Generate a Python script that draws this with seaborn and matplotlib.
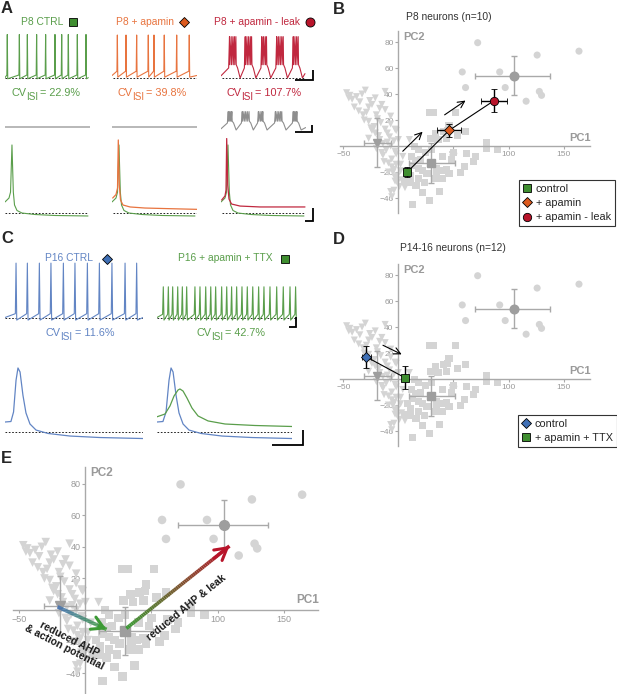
import numpy as np
import pandas as pd
import seaborn as sns
import matplotlib.pyplot as plt
from matplotlib.lines import Line2D
from matplotlib.collections import LineCollection
from matplotlib.colors import LinearSegmentedColormap

# figure size in pixels
W, H = 617, 694

# colours
GREEN = '#5a9e4b'
GREEN_MK = '#3f8e30'
ORANGE = '#e8743f'
ORANGE_MK = '#dc5a1e'
RED = '#c0283f'
RED_MK = '#b8142a'
BLUE = '#6285c4'
BLUE_MK = '#3f6fb5'
GREY_PT = '#d4d4d4'
GREY_MEAN = '#9e9e9e'
GREY_AX = '#a9a9a9'
GREY_TXT = '#9a9a9a'

# ---- background population in PC space ----
tri_pc1 = [-47, -42, -35, -30, -21, -12, -40, -27, -12, -32, -20, -7, -27, -16, -7, -25, -12, -3,
           -21, -8, -27, -4, -14, -7, -11, -3, -14, -6, -9, -2, -4, 2, -1, 3, -3, 1, 6, -4, -7, -6,
           10, -44, -38, -24, -17, -36, -31, -22, -18, -10, 0, 4, -2, -5, -45, -33, -26, -15, -29,
           -19, -24, -17, -20, -13, -9, -3, -1, 2, -6, -10, -2, -15]
tri_pc2 = [41, 36, 34, 43, 37, 42, 30, 30, 28, 24, 24, 23, 19, 18, 17, 14, 13, 13,
           10, 7, 6, 4, 2, 0, -3, -4, -7, -10, -13, -14, -18, -19, -23, -26, -27, -31, -32, -34, -35, -39,
           5, 39, 38, 32, 29, 27, 20, 15, 8, 10, 5, -8, -6, -20, 37, 40, 35, 32, 26,
           21, 12, 5, -2, -12, -20, -24, -28, -14, -16, 3, 12, -5]
sq_pc1 = [28, 32, 52, 46, 41, 45, 34, 54, 29, 36, 44, 18, 80, 90, 70, 68, 56, 62, 25, 40,
          50, 12, 20, 16, 13, 18, 22, 26, 35, 39, 44, 35, 46, 40, 34, 18, 24, 16, 22, 37,
          28, 13, 8, 11, 6, 11, 60, 48, 30, 15, 80, 61]
sq_pc2 = [26, 26, 26, 16, 11, 12, 10, 8, 6, 5, 6, -3, -2, -3, -8, -12, -20, -6, -5, -8,
          -5, -8, -10, -11, -15, -17, -19, -21, -17, -19, -18, -22, -21, -25, -25, -25, -28, -30, -36, -35,
          -42, -45, -19, -23, -27, -28, -16, -10, -3, 0, 3, 11]
circ_pc1 = [72, 164, 126, 58, 92, 61, 97, 128, 130, 116]
circ_pc2 = [79.5, 73, 70, 57, 57, 45, 45, 42, 39, 34.5]

# group means with asymmetric errors
mean_pc1 = [-19, 30, 105]
mean_pc2 = [2.5, -13, 54]
mean_xlo = [-31, 10, 70]
mean_xhi = [-7, 51, 138]
mean_ylo = [-16, -28.5, 39]
mean_yhi = [21.5, 2, 69.5]
mean_marker = ['v', 's', 'o']

# panel B: P8 neurons
b_labels = ['control', '+ apamin', '+ apamin - leak']
b_pc1 = [8, 46, 87]
b_pc2 = [-20, 12, 35]
b_xerr = [2, 11, 12]
b_yerr = [4, 5, 9]
b_markers = ['s', 'D', 'o']
b_colors = [GREEN_MK, ORANGE_MK, RED_MK]
b_arrow_start = [(4, -4), (42, 24)]
b_arrow_end = [(22, 11), (61, 35)]

# panel D: P14-16 neurons
d_labels = ['control', '+ apamin + TTX']
d_pc1 = [-29, 6]
d_pc2 = [17, 1]
d_xerr = [4, 3]
d_yerr = [8.5, 9]
d_markers = ['D', 's']
d_colors = [BLUE_MK, GREEN_MK]
d_arrow_start = [(-14, 26)]
d_arrow_end = [(3, 19)]

# panel E: summary arrows
e_arrow_start = [(-21, 2), (31, -11.6)]
e_arrow_end = [(16, -12.2), (109, 40.5)]
e_arrow_colors = [('#3f6fb5', '#3c9a35'), ('#3c9a35', '#b8142a')]

# ---- voltage traces (time in ms of a 1 s sweep, voltage in % of panel height) ----
a_ctrl_spikes = [27, 169, 263, 372, 478, 588, 667, 745, 851, 953]
a_apamin_spikes = [63, 165, 290, 427, 494, 615, 761, 909]
a_leak_bursts = [[100, 120, 140, 158, 175], [285, 305, 325, 345, 360], [480, 500, 520, 535],
                 [655, 675, 695, 715, 732], [850, 870, 890, 908]]
a_grey_bursts = [[85, 100, 115, 128], [250, 270, 290, 310, 330], [440, 460, 480, 492],
                 [640, 660, 680, 700, 715], [850, 865, 880, 893]]
c_ctrl_spikes = [80, 162, 249, 333, 423, 507, 597, 684, 775, 870, 954]
c_ttx_spikes = [45, 81, 112, 148, 181, 212, 271, 307, 348, 384, 419, 462, 498,
                533, 569, 607, 645, 684, 726, 764, 807, 855, 902, 950, 990]

# CV of inter-spike intervals
cv_values = ['22.9%', '39.8%', '107.7%', '11.6%', '42.7%']

# single action potentials (time % of panel width, voltage % of panel height)
ap_p8_ctrl_t = [0, 4.7, 6.5, 8.2, 9.8, 11.2, 14.1, 20, 35.3, 58.8, 97.6]
ap_p8_ctrl_v = [22, 26.8, 34, 91.5, 34, 18.3, 11.6, 8.5, 6.7, 5.5, 4.9]
ap_p8_apamin_t = [0.8, 4.7, 6.5, 7.4, 8.6, 10, 12.9, 21.2, 38.8, 68.2, 100]
ap_p8_apamin_v = [26.8, 31, 39, 97.6, 42.7, 24.4, 18.3, 15.9, 14.6, 13.8, 13]
ap_p8_leak_t = [0.8, 4.7, 5.9, 6.7, 7.9, 9.4, 12.4, 22.4, 45.9, 98.8]
ap_p8_leak_v = [24.4, 29.3, 36.6, 99.4, 42.7, 25.6, 19.5, 17, 15.9, 15.9]
ap_p16_ctrl_t = [0, 4.3, 6.2, 8, 9.4, 10.9, 13, 15.2, 18.1, 22.5, 31.2, 47.1, 68.8, 100]
ap_p16_ctrl_v = [27.7, 28.3, 39.8, 78, 92.8, 88, 60, 38.6, 25.3, 18, 13.9, 10.8, 9, 7.8]
ap_p16_ctrl2_t = [0, 4.4, 6.7, 8.9, 10.4, 11.9, 14.1, 16.3, 19.3, 23.7, 32.6, 48.1, 70.4, 100]
ap_p16_ttx_t = [0, 5.9, 9.6, 12.6, 15.6, 17, 19.3, 22.2, 25.9, 30.4, 37.8, 50.4, 72.6, 100]
ap_p16_ttx_v = [34, 37.3, 47, 59, 66.3, 67.5, 65, 56.6, 44.6, 35, 29, 25.3, 23.5, 22.3]


def fx(x):
    return x / W


def fy(y):
    return 1 - y / H


def px_axes(fig, x0, y0, x1, y1):
    return fig.add_axes([x0 / W, 1 - y1 / H, (x1 - x0) / W, (y1 - y0) / H])


def trace_axes(fig, x0, y0, x1, y1, xmax=1000):
    ax = px_axes(fig, x0, y0, x1, y1)
    ax.set_xlim(0, xmax)
    ax.set_ylim(0, 100)
    ax.axis('off')
    ax.patch.set_alpha(0)
    return ax


def spike_train(times, base, peak, ahp, pre=4, t_end=1000):
    t, v = [0], [base]
    for s in times:
        t += [s - 5, s, s + 5]
        v += [base + pre, peak, base - ahp]
    t.append(t_end)
    v.append(base)
    return t, v


def burst_train(bursts, hump, peak, dip, t_end=1000):
    t, v = [0], [dip + 4]
    for b in bursts:
        t.append(b[0] - 10)
        v.append(hump)
        for s in b:
            t += [s, s + 4]
            v += [peak, hump + 6]
        t += [b[-1] + 20, b[-1] + 50]
        v += [hump, dip]
    t.append(t_end)
    v.append(dip + 8)
    return t, v


def dashed(ax, level, t0=0, t1=100):
    ax.plot([t0, t1], [level, level], color='black', lw=0.6, ls=(0, (2, 2)), zorder=1)


def scale_bar(ax, x0, x1, y0, y1):
    ax.plot([x0, x1, x1], [y0, y0, y1], color='black', lw=1.3, clip_on=False,
            solid_capstyle='butt', solid_joinstyle='miter')


def glyph(fig, x, y, marker, color, ms=6):
    fig.add_artist(Line2D([fx(x)], [fy(y)], transform=fig.transFigure, ls='none', marker=marker,
                          ms=ms, mfc=color, mec='black', mew=0.6))


def cv_label(fig, renderer, xc, y_base, value, color):
    # "CV" + lowered "ISI" + " = value", centred on xc
    parts = [('CV', 7.8, 0, -0.8), ('ISI', 7.2, 4.5, 2.5), ('= ' + value, 7.8, 0, 0)]
    texts, widths = [], []
    for s, fs, dy, kern in parts:
        t = fig.text(0, 0, s, color=color, fontsize=fs, ha='left', va='baseline')
        widths.append(t.get_window_extent(renderer).width + kern)
        texts.append((t, dy))
    x = xc - sum(widths) / 2
    for (t, dy), w in zip(texts, widths):
        t.set_position((fx(x), fy(y_base + dy)))
        x += w


def pca_axes(fig, box, lims, pop, tick_fs, pc_fs, pt_size, mean_ms):
    ax = px_axes(fig, *box)
    sns.scatterplot(data=pop, x='pc1', y='pc2', style='group',
                    markers={'tri': 'v', 'sq': 's', 'circ': 'o'},
                    color=GREY_PT, s=pt_size, linewidth=0, legend=False, ax=ax, zorder=1)
    for i in range(len(mean_pc1)):
        ax.errorbar(mean_pc1[i], mean_pc2[i],
                    xerr=[[mean_pc1[i] - mean_xlo[i]], [mean_xhi[i] - mean_pc1[i]]],
                    yerr=[[mean_pc2[i] - mean_ylo[i]], [mean_yhi[i] - mean_pc2[i]]],
                    fmt=mean_marker[i], ms=mean_ms, mfc=GREY_MEAN, mec=GREY_MEAN,
                    ecolor=GREY_AX, elinewidth=1, capsize=2.5, capthick=1, zorder=2)
    ax.set_xlim(lims[0], lims[1])
    ax.set_ylim(lims[2], lims[3])
    ax.set_xlabel('')
    ax.set_ylabel('')
    ax.patch.set_alpha(0)
    for side in ['top', 'right']:
        ax.spines[side].set_visible(False)
    for side in ['left', 'bottom']:
        ax.spines[side].set_position(('data', 0))
        ax.spines[side].set_color(GREY_AX)
        ax.spines[side].set_linewidth(1)
    ax.set_xticks([-50, 50, 100, 150])
    ax.set_yticks([-40, -20, 20, 40, 60, 80])
    ax.tick_params(axis='both', colors=GREY_AX, labelcolor=GREY_TXT, labelsize=tick_fs,
                   length=2.5, width=0.8, pad=1, direction='out', bottom=True, left=True)
    ax.text(4, lims[3] - 0.5, 'PC2', color=GREY_TXT, fontsize=pc_fs, fontweight='bold',
            ha='left', va='top')
    ax.text(lims[1] + 1, 2.5, 'PC1', color=GREY_TXT, fontsize=pc_fs, fontweight='bold',
            ha='right', va='bottom')
    return ax


def add_points(ax, xs, ys, xerr, yerr, markers, colors):
    handles = []
    for i in range(len(xs)):
        ms = 5 if markers[i] == 'D' else 6
        ax.errorbar(xs[i], ys[i], xerr=xerr[i], yerr=yerr[i], fmt=markers[i], ms=ms,
                    mfc=colors[i], mec='black', mew=0.6, ecolor='black', elinewidth=1,
                    capsize=2.5, capthick=1, zorder=4)
        handles.append(Line2D([], [], ls='none', marker=markers[i], ms=ms, mfc=colors[i],
                              mec='black', mew=0.6))
    return handles


def add_legend(fig, ax, handles, labels, x, y):
    leg = ax.legend(handles, labels, loc='upper left', bbox_to_anchor=(fx(x), fy(y)),
                    bbox_transform=fig.transFigure, fontsize=7.8, frameon=True, fancybox=False,
                    edgecolor='#333333', framealpha=1, handlelength=0.8, handletextpad=0.4,
                    borderpad=0.35, labelspacing=0.4, borderaxespad=0)
    leg.get_frame().set_linewidth(0.8)


def main():
    sns.set_theme(style='white')
    plt.rcParams['font.family'] = ['Liberation Sans', 'DejaVu Sans']

    fig = plt.figure(figsize=(W / 100, H / 100), dpi=100)
    renderer = fig.canvas.get_renderer()

    pop = pd.DataFrame({
        'pc1': tri_pc1 + sq_pc1 + circ_pc1,
        'pc2': tri_pc2 + sq_pc2 + circ_pc2,
        'group': ['tri'] * len(tri_pc1) + ['sq'] * len(sq_pc1) + ['circ'] * len(circ_pc1),
    })

    # ---------------- panel A ----------------
    a_cols = [(5, 90), (112, 197), (221, 306)]

    ax = trace_axes(fig, a_cols[0][0], 28, a_cols[0][1], 82)
    t, v = spike_train(a_ctrl_spikes, 8, 88, 2, pre=5, t_end=980)
    ax.plot(t, v, color=GREEN, lw=0.8)
    dashed(ax, 7.4, 0, 980)

    ax = trace_axes(fig, a_cols[1][0], 28, a_cols[1][1], 82)
    t, v = spike_train(a_apamin_spikes, 12, 87, 3, pre=8, t_end=996)
    ax.plot(t, v, color=ORANGE, lw=0.8)
    dashed(ax, 7.4, 8, 996)

    ax = trace_axes(fig, a_cols[2][0], 28, a_cols[2][1], 82)
    t, v = burst_train(a_leak_bursts, 26, 84, 7.5, t_end=988)
    ax.plot(t, v, color=RED, lw=0.8)
    dashed(ax, 7.4, 8, 988)
    scale_bar(ax, 870, 1082, 3.7, 22.2)

    # grey reference traces
    for x0, x1 in a_cols[:2]:
        ax = trace_axes(fig, x0, 105, x1, 135)
        ax.plot([0, 1000], [26.7, 26.7], color='#a4a4a4', lw=1.1)
    ax = trace_axes(fig, a_cols[2][0], 105, a_cols[2][1], 135)
    t, v = burst_train(a_grey_bursts, 40, 78, 16.7, t_end=995)
    ax.plot(t, v, color='#8e8e8e', lw=0.8)
    scale_bar(ax, 870, 1071, 11, 33.3)

    # single action potentials
    ax = trace_axes(fig, a_cols[0][0], 138, a_cols[0][1], 220, xmax=100)
    ax.plot(ap_p8_ctrl_t, ap_p8_ctrl_v, color=GREEN, lw=0.8)
    dashed(ax, 8.5, 0, 97.6)

    ax = trace_axes(fig, a_cols[1][0], 138, a_cols[1][1], 220, xmax=100)
    ax.plot(ap_p8_ctrl_t, ap_p8_ctrl_v, color=GREEN, lw=0.8)
    ax.plot(ap_p8_apamin_t, ap_p8_apamin_v, color=ORANGE, lw=0.9)
    dashed(ax, 8.2, 0.8, 100)

    ax = trace_axes(fig, a_cols[2][0], 138, a_cols[2][1], 220, xmax=100)
    ax.plot(ap_p8_ctrl_t, ap_p8_ctrl_v, color=GREEN, lw=0.8)
    ax.plot(ap_p8_leak_t, ap_p8_leak_v, color=RED, lw=0.9)
    dashed(ax, 8.2, 0.8, 99)
    scale_bar(ax, 98.8, 108.2, -1.2, 14.6)

    # ---------------- panel C ----------------
    ax = trace_axes(fig, 5, 258, 143, 322)
    t, v = spike_train(c_ctrl_spikes, 7, 92, 4, pre=6)
    ax.plot(t, v, color=BLUE, lw=0.8)
    dashed(ax, 6.25, 0, 1000)

    ax = trace_axes(fig, 157, 258, 297, 322)
    t, v = spike_train(c_ttx_spikes, 7, 55, 4, pre=5)
    ax.plot(t, v, color=GREEN, lw=0.8)
    dashed(ax, 5.8, 0, 1000)
    scale_bar(ax, 943, 993, -7.8, 7.8)

    ax = trace_axes(fig, 5, 362, 143, 445, xmax=100)
    ax.plot(ap_p16_ctrl_t, ap_p16_ctrl_v, color=BLUE, lw=0.9)
    dashed(ax, 15.3, 0, 100)

    ax = trace_axes(fig, 157, 362, 292, 445, xmax=100)
    ax.plot(ap_p16_ctrl2_t, ap_p16_ctrl_v, color=BLUE, lw=0.9)
    ax.plot(ap_p16_ttx_t, ap_p16_ttx_v, color=GREEN, lw=0.9)
    dashed(ax, 15.3, 0, 100)
    scale_bar(ax, 85.2, 108.1, 0, 18)

    # trace titles and CV labels
    title_fs = 7.4
    fig.text(fx(42), fy(22), 'P8 CTRL', color=GREEN, fontsize=title_fs, ha='center', va='center')
    glyph(fig, 73, 22, 's', GREEN_MK, ms=5.5)
    fig.text(fx(145), fy(22), 'P8 + apamin', color=ORANGE, fontsize=title_fs, ha='center', va='center')
    glyph(fig, 184, 22, 'D', ORANGE_MK, ms=5)
    fig.text(fx(257), fy(22), 'P8 + apamin - leak', color=RED, fontsize=title_fs, ha='center', va='center')
    glyph(fig, 310, 22, 'o', RED_MK, ms=6.5)
    fig.text(fx(69), fy(258), 'P16 CTRL', color=BLUE, fontsize=title_fs, ha='center', va='center')
    glyph(fig, 107, 259, 'D', BLUE_MK, ms=5)
    fig.text(fx(225), fy(258), 'P16 + apamin + TTX', color=GREEN, fontsize=title_fs, ha='center', va='center')
    glyph(fig, 285, 259, 's', GREEN_MK, ms=5.5)

    cv_pos = [(46, 96), (152, 96), (264, 96), (80, 336), (231, 336)]
    cv_colors = [GREEN, ORANGE, RED, BLUE, GREEN]
    for (x, y), val, col in zip(cv_pos, cv_values, cv_colors):
        cv_label(fig, renderer, x, y, val, col)

    # ---------------- panel B ----------------
    lims_bd = (-53, 174, -51.5, 88.5)
    ax = pca_axes(fig, (340, 31, 590, 213), lims_bd, pop, 6, 8, 26, 6.2)
    ax.plot(b_pc1, b_pc2, color='black', lw=0.8, zorder=3)
    for s, e in zip(b_arrow_start, b_arrow_end):
        ax.annotate('', xy=e, xytext=s, arrowprops=dict(arrowstyle='->', color='black', lw=0.8,
                                                         shrinkA=0, shrinkB=0))
    handles = add_points(ax, b_pc1, b_pc2, b_xerr, b_yerr, b_markers, b_colors)
    add_legend(fig, ax, handles, b_labels, 519, 180)
    fig.text(fx(449), fy(17), 'P8 neurons (n=10)', color='#333333', fontsize=7.4, ha='center', va='center')

    # ---------------- panel D ----------------
    ax = pca_axes(fig, (340, 264, 590, 446), lims_bd, pop, 6, 8, 26, 6.2)
    ax.plot(d_pc1, d_pc2, color='black', lw=0.8, zorder=3)
    for s, e in zip(d_arrow_start, d_arrow_end):
        ax.annotate('', xy=e, xytext=s, arrowprops=dict(arrowstyle='->', color='black', lw=0.8,
                                                         shrinkA=0, shrinkB=0))
    handles = add_points(ax, d_pc1, d_pc2, d_xerr, d_yerr, d_markers, d_colors)
    add_legend(fig, ax, handles, d_labels, 518, 415)
    fig.text(fx(453), fy(248), 'P14-16 neurons (n=12)', color='#333333', fontsize=7.4, ha='center', va='center')

    # ---------------- panel E ----------------
    ax = pca_axes(fig, (12.7, 466.7, 318, 693), (-55, 176, -52.5, 90.7), pop, 6.5, 8.5, 38, 7)
    for (s, e), (c0, c1) in zip(zip(e_arrow_start, e_arrow_end), e_arrow_colors):
        cmap = LinearSegmentedColormap.from_list('grad', [c0, c1])
        n = 60
        xs = np.linspace(s[0], e[0], n + 1)
        ys = np.linspace(s[1], e[1], n + 1)
        segs = np.stack([np.column_stack([xs[:-1], ys[:-1]]), np.column_stack([xs[1:], ys[1:]])], axis=1)
        ax.add_collection(LineCollection(segs, colors=cmap(np.linspace(0, 1, n)), linewidths=2.6,
                                         capstyle='butt', zorder=5))
        back = (s[0] + 0.85 * (e[0] - s[0]), s[1] + 0.85 * (e[1] - s[1]))
        ax.annotate('', xy=e, xytext=back,
                    arrowprops=dict(arrowstyle='->,head_length=0.7,head_width=0.4', color=c1, lw=2.2,
                                    shrinkA=0, shrinkB=0), zorder=6)
    ax.text(76.5, 1.5, 'reduced AHP & leak', fontsize=7.5, fontweight='bold', color='#1a1a1a',
            rotation=39, rotation_mode='anchor', ha='center', va='center', zorder=7)
    ax.text(-14, -21, 'reduced AHP\n& action potential', fontsize=7.5, fontweight='bold', color='#1a1a1a',
            rotation=-27, rotation_mode='anchor', ha='center', va='center', multialignment='center',
            linespacing=1.0, zorder=7)

    # panel letters
    for letter, (x, y) in zip('ABCDE', [(1, 1), (333, 2), (1, 231), (333, 232), (1, 451)]):
        fig.text(fx(x), fy(y), letter, fontsize=12, fontweight='bold', ha='left', va='top')

    fig.savefig('out.png', dpi=100)


if __name__ == "__main__":
    main()
